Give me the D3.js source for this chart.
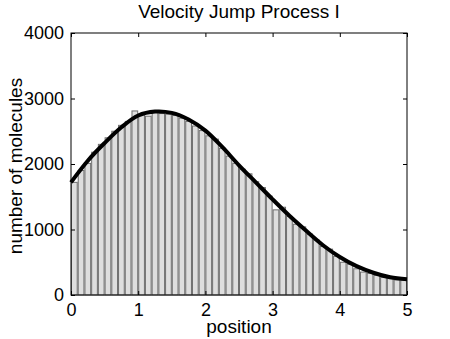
<!DOCTYPE html>
<html lang="en">
<head>
<meta charset="utf-8" />
<script src="https://cdnjs.cloudflare.com/ajax/libs/d3/7.8.5/d3.min.js"></script>
<style>
  body { margin: 0; background: #fff; }
  text { font-family: "Liberation Sans", Arial, Helvetica, sans-serif; fill: #000; }
</style>
</head>
<body>
<div id="viz"></div>
<script>
// histogram: 50 bins of width 0.1 on [0, 5]
var binStarts = d3.range(0, 50).map(function (i) { return i / 10; });
var counts = [1720, 1900, 2010, 2180, 2300, 2400, 2500, 2590, 2650, 2810,
              2760, 2730, 2800, 2770, 2760, 2740, 2700, 2650, 2580, 2510,
              2430, 2380, 2240, 2120, 2010, 1920, 1850, 1730, 1640, 1510,
              1300, 1340, 1200, 1080, 1040, 930, 840, 740, 700, 590,
              500, 470, 400, 350, 330, 300, 270, 250, 230, 230];

// analytic curve
var curveX = [0, 0.25, 0.5, 0.75, 1, 1.25, 1.5, 1.75, 2, 2.25, 2.5,
              2.75, 3, 3.25, 3.5, 3.75, 4, 4.25, 4.5, 4.75, 5];
var curveY = [1720, 2050, 2320, 2560, 2740, 2800, 2780, 2680, 2510, 2260, 1980,
              1720, 1460, 1210, 980, 760, 580, 440, 340, 270, 240];

var xTicks = [0, 1, 2, 3, 4, 5];
var yTicks = [0, 1000, 2000, 3000, 4000];

var width = 450, height = 339;
var margin = { left: 71, right: 43, top: 33, bottom: 44 };
var innerW = width - margin.left - margin.right;
var innerH = height - margin.top - margin.bottom;

var svg = d3.select('#viz').append('svg')
    .attr('width', width)
    .attr('height', height);

var g = svg.append('g')
    .attr('transform', 'translate(' + margin.left + ',' + margin.top + ')');

var x = d3.scaleLinear().domain([0, 5]).range([0, innerW]);
var y = d3.scaleLinear().domain([0, 4000]).range([innerH, 0]);

// bars
g.selectAll('rect.bar')
    .data(counts)
    .enter().append('rect')
    .attr('class', 'bar')
    .attr('x', function (d, i) { return x(binStarts[i]) + 0.5; })
    .attr('width', function (d, i) { return x(binStarts[i] + 0.1) - x(binStarts[i]) - 1; })
    .attr('y', function (d) { return y(d); })
    .attr('height', function (d) { return innerH - y(d); })
    .attr('fill', '#dedede')
    .attr('stroke', '#6e6e6e')
    .attr('stroke-width', 1);

// curve
var line = d3.line()
    .x(function (d, i) { return x(curveX[i]); })
    .y(function (d) { return y(d); })
    .curve(d3.curveCatmullRom);

g.append('path')
    .datum(curveY)
    .attr('d', line)
    .attr('fill', 'none')
    .attr('stroke', '#000')
    .attr('stroke-width', 4);

// axes, MATLAB style: ticks inside, box all round
var tickLen = 4;
g.append('g')
    .attr('transform', 'translate(0,' + innerH + ')')
    .call(d3.axisBottom(x).tickValues(xTicks).tickSizeInner(-tickLen).tickSizeOuter(0).tickPadding(8).tickFormat(d3.format('d')))
    .call(function (a) { a.select('.domain').remove(); });
g.append('g')
    .call(d3.axisTop(x).tickValues(xTicks).tickSizeInner(-tickLen).tickSizeOuter(0).tickFormat(''))
    .call(function (a) { a.select('.domain').remove(); });
g.append('g')
    .call(d3.axisLeft(y).tickValues(yTicks).tickSizeInner(-tickLen).tickSizeOuter(0).tickPadding(7).tickFormat(d3.format('d')))
    .call(function (a) { a.select('.domain').remove(); });
g.append('g')
    .attr('transform', 'translate(' + innerW + ',0)')
    .call(d3.axisRight(y).tickValues(yTicks).tickSizeInner(-tickLen).tickSizeOuter(0).tickFormat(''))
    .call(function (a) { a.select('.domain').remove(); });

g.selectAll('.tick text')
    .style('font-family', '"Liberation Sans", Arial, sans-serif')
    .style('font-size', '18px')
    .attr('fill', '#000');
g.selectAll('.tick line').attr('stroke', '#000');

g.append('rect')
    .attr('width', innerW)
    .attr('height', innerH)
    .attr('fill', 'none')
    .attr('stroke', '#000')
    .attr('stroke-width', 1);

// labels
svg.append('text')
    .attr('x', margin.left + innerW / 2)
    .attr('y', 18)
    .attr('text-anchor', 'middle')
    .style('font-size', '19px')
    .text('Velocity Jump Process I');

svg.append('text')
    .attr('x', margin.left + innerW / 2)
    .attr('y', 333)
    .attr('text-anchor', 'middle')
    .style('font-size', '19px')
    .text('position');

svg.append('text')
    .attr('transform', 'translate(22,' + (margin.top + innerH / 2 + 2) + ') rotate(-90)')
    .attr('text-anchor', 'middle')
    .style('font-size', '19px')
    .text('number of molecules');
</script>
</body>
</html>
